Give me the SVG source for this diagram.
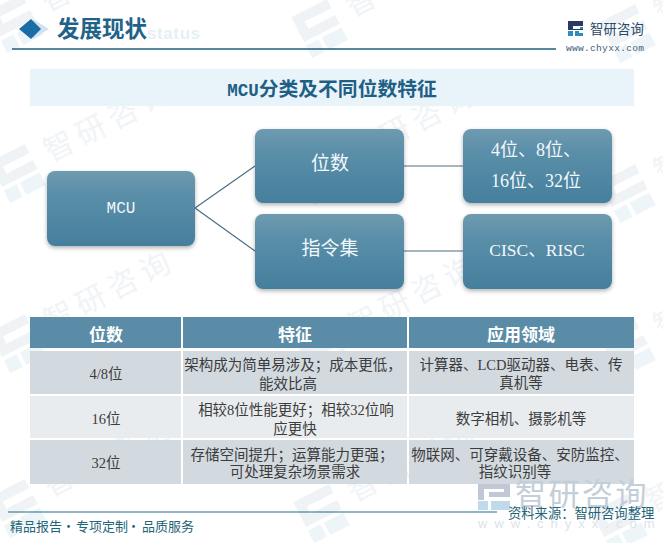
<svg xmlns="http://www.w3.org/2000/svg" width="663" height="543" viewBox="0 0 663 543">
<style>
text{font-family:"Liberation Serif","Noto Sans CJK SC",serif}
.n{fill:url(#g);filter:url(#s)}
.nt{fill:#f2f8fb;font-size:19px;text-anchor:middle}
.c{stroke:#4f6f80;stroke-width:1.2;fill:none}
.th{fill:#fff;font-size:17px;font-weight:bold;text-anchor:middle}
.td{fill:#3c3c3c;font-size:14.5px;text-anchor:middle}
.h{fill:#5a8ca7}.r1{fill:#d2d9df}.r2{fill:#e9ecef}
.wt{fill:#f1f4f7;font-size:30px;font-family:"Noto Sans CJK SC",sans-serif}
.wl{fill:#eef5f9}
.wl2{fill:#f0f3f6}
.m{font-family:"Liberation Mono",monospace}
</style>
<defs>
<linearGradient id="g" x1="0" y1="0" x2="0" y2="1"><stop offset="0" stop-color="#6e9bb0"/><stop offset=".3" stop-color="#5b8fa9"/><stop offset="1" stop-color="#457f9d"/></linearGradient>
<filter id="s" x="-10%" y="-10%" width="120%" height="125%"><feDropShadow dx="0" dy="2" stdDeviation="2" flood-color="#000" flood-opacity=".3"/></filter>
<g id="wm" transform="rotate(-27)">
<path class="wl2" d="M-22-20H18V-10H-12V-2H18V8H-22Z"/>
<path class="wl" d="M-22 12H-8V26H-22ZM-4 12H18V26H-4Z"/>
<text class="wt" x="32" y="8" letter-spacing="6">智研咨询</text>
</g>
</defs>
<rect width="663" height="543" fill="#fff"/>
<g id="watermarks">
<use href="#wm" x="15" y="20"/><use href="#wm" x="320" y="25"/><use href="#wm" x="628" y="30"/>
<use href="#wm" x="18" y="170"/><use href="#wm" x="322" y="172"/><use href="#wm" x="628" y="190"/>
<use href="#wm" x="18" y="340"/><use href="#wm" x="322" y="345"/><use href="#wm" x="628" y="345"/>
<use href="#wm" x="18" y="505"/><use href="#wm" x="322" y="510"/><use href="#wm" x="620" y="520"/>
</g>
<g id="header">
<path d="M33 19L49 29L33 39Z" fill="#cfe2ee"/>
<path d="M31 19L41 29L31 39L19 29Z" fill="#1a6ca6"/>
<text x="147" y="39" font-size="17" font-weight="bold" fill="#e6eff5" style="font-family:'Liberation Sans',sans-serif" letter-spacing=".6">status</text>
<text x="57" y="37" font-size="22.5" font-weight="bold" fill="#1f6488">发展现状</text>
<path d="M12 49H556" stroke="#1f5f78" stroke-width="1.4"/>
</g>
<g id="logo">
<path d="M568 21H583V26H573V29H583V30H568Z" fill="#2b3a63"/>
<path d="M568 31H573V36H568ZM575 31H579V33H583V36H575Z" fill="#2e8dbf"/>
<rect x="580" y="27" width="3" height="2" fill="#2e8dbf"/>
<text x="590" y="34" font-size="13.3" fill="#2a4a6a" letter-spacing=".2" style="font-family:'Noto Sans CJK SC',sans-serif">智研咨询</text>
<text x="566" y="51" font-size="9.6" fill="#44607a" style="font-family:'Liberation Mono',monospace" textLength="78">www.chyxx.com</text>
</g>
<g id="title">
<rect x="30" y="69" width="604" height="37" fill="#e8f3fa"/>
<text x="332" y="96" font-size="19.8" font-weight="bold" fill="#1f5f85" text-anchor="middle"><tspan class="m" font-size="17.5">MCU</tspan>分类及不同位数特征</text>
</g>
<g id="connectors">
<path class="c" d="M195 208L255 166M195 208L255 251M404 166H463M404 251H463"/>
</g>
<g id="node-mcu"><rect class="n" x="47" y="171" width="148" height="75" rx="8"/><text class="nt m" x="121" y="213" style="font-size:16px">MCU</text></g>
<g id="node-bits"><rect class="n" x="255" y="129" width="149" height="74" rx="8"/><text class="nt" x="330" y="170">位数</text></g>
<g id="node-isa"><rect class="n" x="255" y="214" width="149" height="75" rx="8"/><text class="nt" x="330" y="255">指令集</text></g>
<g id="node-bitvals"><rect class="n" x="463" y="129" width="149" height="74" rx="8"/><text class="nt" x="491" y="156" style="text-anchor:start;font-size:18px">4位、8位、</text><text class="nt" x="491" y="187" style="text-anchor:start;font-size:18px">16位、32位</text></g>
<g id="node-isavals"><rect class="n" x="463" y="214" width="149" height="75" rx="8"/><text class="nt" x="537" y="256" style="font-size:17.5px">CISC、RISC</text></g>
<g id="table">
<rect class="h" x="30" y="317" width="151" height="31"/><rect class="h" x="183" y="317" width="224" height="31"/><rect class="h" x="409" y="317" width="225" height="31"/>
<rect class="r1" x="30" y="351" width="151" height="43"/><rect class="r1" x="183" y="351" width="224" height="43"/><rect class="r1" x="409" y="351" width="225" height="43"/>
<rect class="r2" x="30" y="396" width="151" height="42"/><rect class="r2" x="183" y="396" width="224" height="42"/><rect class="r2" x="409" y="396" width="225" height="42"/>
<rect class="r1" x="30" y="440" width="151" height="44"/><rect class="r1" x="183" y="440" width="224" height="44"/><rect class="r1" x="409" y="440" width="225" height="44"/>
<text class="th" x="106" y="341">位数</text><text class="th" x="295" y="341">特征</text><text class="th" x="521" y="341">应用领域</text>
<text class="td" x="106" y="379">4/8位</text>
<text class="td" x="293" y="370">架构成为简单易涉及；成本更低，</text><text class="td" x="288" y="389">能效比高</text>
<text class="td" x="521" y="370">计算器、LCD驱动器、电表、传</text><text class="td" x="521" y="388">真机等</text>
<text class="td" x="106" y="424">16位</text>
<text class="td" x="296" y="415">相较8位性能更好；相较32位响</text><text class="td" x="295" y="434">应更快</text>
<text class="td" x="521" y="424">数字相机、摄影机等</text>
<text class="td" x="106" y="468">32位</text>
<text class="td" x="292" y="460">存储空间提升；运算能力更强；</text><text class="td" x="295" y="477">可处理复杂场景需求</text>
<text class="td" x="520" y="460">物联网、可穿戴设备、安防监控、</text><text class="td" x="515" y="477">指纹识别等</text>
</g>
<g id="footer">
<path d="M478 484H510V497H489V492H504V489H484V500H478Z" fill="#a9b6c6" opacity=".75"/>
<path d="M478 501H488V510H478ZM491 501H510V510H491Z" fill="#a9cfe4" opacity=".75"/>
<text x="515" y="505" font-size="31" fill="#c3ced8" letter-spacing="2.5" style="font-family:'Noto Sans CJK SC',sans-serif">智研咨询</text>
<text x="478" y="528" font-size="13" fill="#dde3e8" letter-spacing="7" style="font-family:'Liberation Sans',sans-serif">www.chyxx.com</text>
<path d="M8 512H497" stroke="#1f6f88" stroke-width="1.2"/>
<text x="508" y="518" font-size="13.3" fill="#1f6478" style="font-family:'Noto Sans CJK SC',sans-serif">资料来源：智研咨询整理</text>
<text y="531" font-size="13" fill="#1f6478" style="font-family:'Noto Sans CJK SC',sans-serif"><tspan x="10">精品报告</tspan><tspan x="62">·</tspan><tspan x="76">专项定制</tspan><tspan x="127">·</tspan><tspan x="142">品质服务</tspan></text>
</g>
</svg>
